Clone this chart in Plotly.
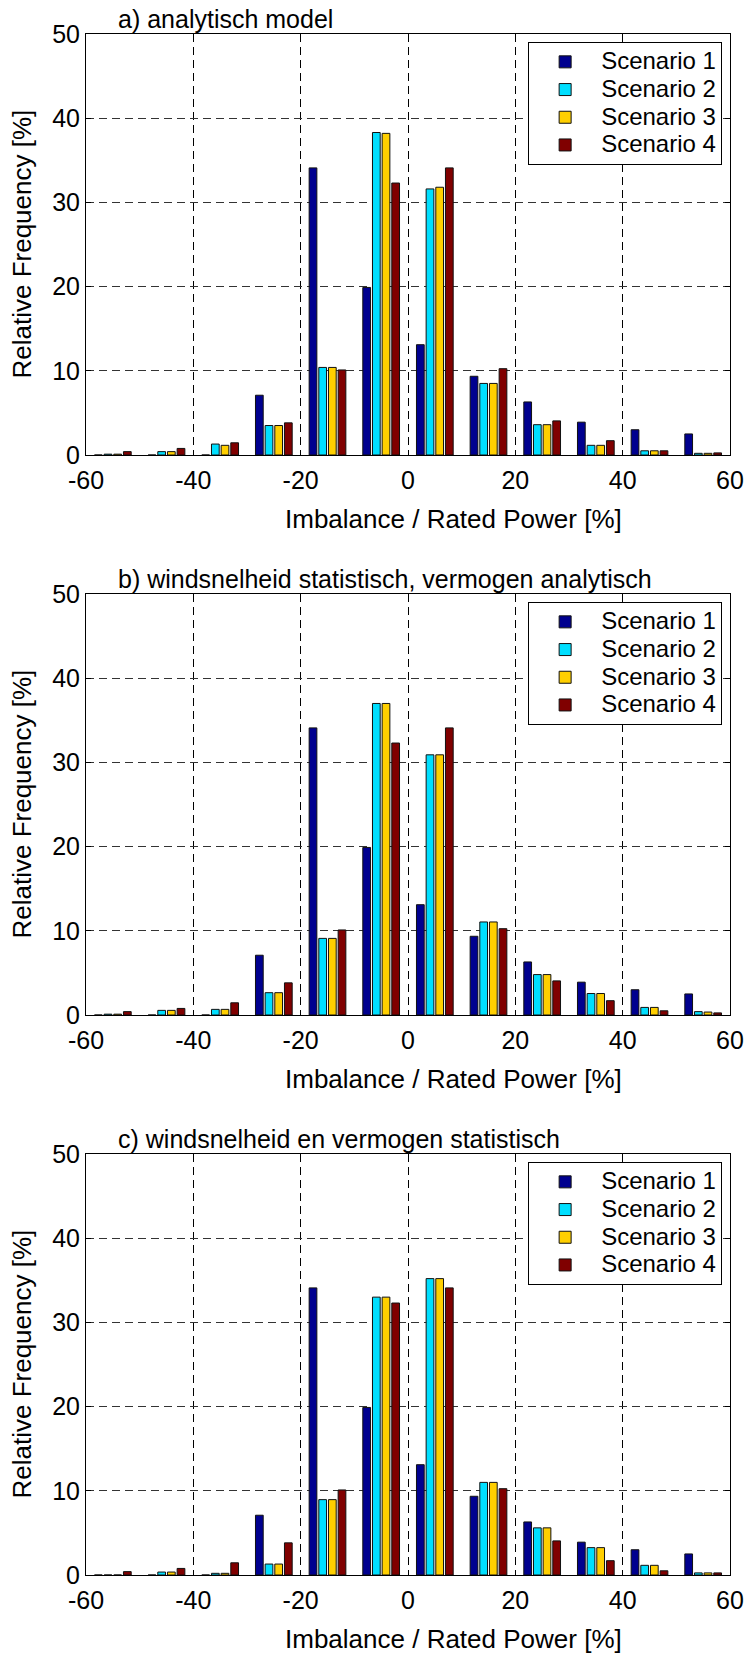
import plotly.graph_objects as go

# ---------------- data ----------------
bins = [-55, -45, -35, -25, -15, -5, 5, 15, 25, 35, 45, 55]
scenario_names = ["Scenario 1", "Scenario 2", "Scenario 3", "Scenario 4"]
panel_titles = ["a) analytisch model",
                "b) windsnelheid statistisch, vermogen analytisch",
                "c) windsnelheid en vermogen statistisch"]
x_ticks = [-60, -40, -20, 0, 20, 40, 60]
x_tick_text = ["-60", "-40", "-20", "0", "20", "40", "60"]
y_ticks = [0, 10, 20, 30, 40, 50]
x_label = "Imbalance / Rated Power [%]"
y_label = "Relative Frequency [%]"

scen1 = [0.0, 0.0, 0.0, 7.1, 34.1, 19.9, 13.1, 9.35, 6.3, 3.9, 3.0, 2.5]
scen4 = [0.4, 0.78, 1.45, 3.82, 10.1, 32.3, 34.1, 10.25, 4.05, 1.7, 0.5, 0.25]

scen2_a = [0.1, 0.4, 1.3, 3.5, 10.4, 38.3, 31.6, 8.5, 3.6, 1.15, 0.5, 0.2]
scen3_a = [0.1, 0.4, 1.15, 3.5, 10.4, 38.2, 31.8, 8.5, 3.6, 1.15, 0.5, 0.2]

scen2_b = [0.1, 0.55, 0.67, 2.65, 9.1, 37.0, 30.9, 11.05, 4.8, 2.55, 0.9, 0.4]
scen3_b = [0.1, 0.55, 0.67, 2.65, 9.1, 37.0, 30.9, 11.05, 4.8, 2.55, 0.9, 0.35]

scen2_c = [0.0, 0.35, 0.2, 1.3, 8.95, 33.0, 35.2, 11.0, 5.6, 3.25, 1.15, 0.25]
scen3_c = [0.0, 0.35, 0.2, 1.3, 8.95, 33.0, 35.2, 11.0, 5.6, 3.25, 1.15, 0.25]

panels = [
    [scen1, scen2_a, scen3_a, scen4],
    [scen1, scen2_b, scen3_b, scen4],
    [scen1, scen2_c, scen3_c, scen4],
]

# ---------------- styling ----------------
colors = ["#00008F", "#00DFFF", "#FFCF00", "#800000"]
FONT = "Liberation Sans, Arial, sans-serif"
W, H = 756, 1654
M_L, M_R, M_T, M_B = 86, 15, 34, 79
plot_h = H - M_T - M_B

def py(pix):
    return (H - M_B - pix) / plot_h

# pixel extents (top, bottom) of each panel
panel_px = [(34, 455), (594, 1015), (1154, 1575)]
legend_top_px = [42, 602, 1162]

fig = go.Figure()

for i, series in enumerate(panels):
    sfx = "" if i == 0 else str(i + 1)
    lg = "legend" + sfx
    for j, vals in enumerate(series):
        fig.add_trace(go.Bar(
            x=bins, y=vals,
            name='<span style="font-size:24px">' + scenario_names[j] + "</span>",
            marker=dict(color=colors[j], line=dict(color="#111111", width=1)),
            xaxis="x" + sfx, yaxis="y" + sfx, legend=lg,
            hovertemplate=scenario_names[j] + ": %{y}<extra></extra>",
        ))

layout = dict(
    width=W, height=H, autosize=False,
    margin=dict(l=M_L, r=M_R, t=M_T, b=M_B, pad=0),
    paper_bgcolor="white", plot_bgcolor="white",
    font=dict(family=FONT, size=24, color="black"),
    barmode="group", bargap=0.28, bargroupgap=0.2,
    showlegend=True,
)

annotations = []
for i in range(3):
    sfx = "" if i == 0 else str(i + 1)
    top, bot = panel_px[i]
    layout["xaxis" + sfx] = dict(
        domain=[0, 1], anchor="y" + sfx, range=[-60, 60],
        tickmode="array", tickvals=x_ticks, ticktext=x_tick_text,
        ticks="inside", ticklen=5, tickcolor="black",
        showline=True, linecolor="black", linewidth=1, mirror="ticks",
        showgrid=True, gridcolor="black", gridwidth=1, griddash="8px,5px",
        zeroline=False, tickfont=dict(size=25), ticklabelstandoff=3,
    )
    layout["yaxis" + sfx] = dict(
        domain=[py(bot), min(1.0, py(top))], anchor="x" + sfx, range=[0, 50],
        tickmode="array", tickvals=y_ticks,
        ticks="inside", ticklen=5, tickcolor="black",
        showline=True, linecolor="black", linewidth=1, mirror="ticks",
        showgrid=True, gridcolor="#333333", gridwidth=1, griddash="8px,5px",
        zeroline=False, tickfont=dict(size=25), ticklabelstandoff=0,
    )
    layout["legend" + sfx] = dict(
        x=(733 - M_L) / (W - M_L - M_R), xanchor="right",
        y=py(legend_top_px[i]), yanchor="top",
        xref="paper", yref="paper",
        bgcolor="white", bordercolor="black", borderwidth=1,
        font=dict(family=FONT, size=19, color="black"),
        itemwidth=62, tracegroupgap=0,
    )
    annotations.append(dict(
        text=panel_titles[i], showarrow=False,
        xref="x" + sfx + " domain", yref="y" + sfx + " domain",
        x=0, y=1, xanchor="left", yanchor="middle", xshift=30, yshift=15,
        font=dict(size=25),
    ))
    annotations.append(dict(
        text=x_label, showarrow=False,
        xref="x" + sfx + " domain", yref="y" + sfx + " domain",
        x=0.571, y=0, xanchor="center", yanchor="middle", yshift=-64,
        font=dict(size=26),
    ))
    annotations.append(dict(
        text=y_label, showarrow=False, textangle=-90,
        xref="x" + sfx + " domain", yref="y" + sfx + " domain",
        x=0, y=0.5, xanchor="center", yanchor="middle", xshift=-65,
        font=dict(size=26),
    ))

layout["annotations"] = annotations
fig.update_layout(**layout)

fig.write_html("out.html")
